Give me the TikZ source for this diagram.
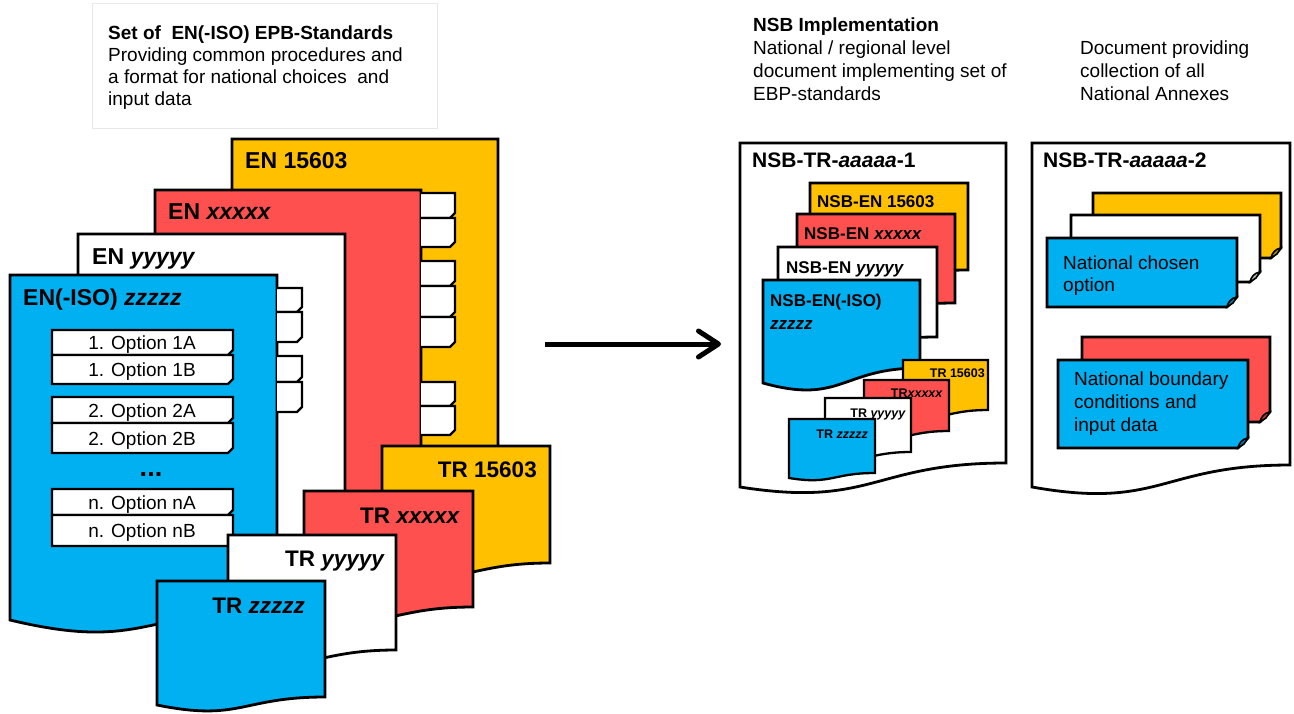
\documentclass[tikz,border=0pt]{standalone}
\usepackage{fontspec}
\setmainfont{Liberation Sans}
\usetikzlibrary{arrows.meta}
\definecolor{cblue}{RGB}{0,176,240}
\definecolor{cred}{RGB}{255,80,80}
\definecolor{cyel}{RGB}{255,192,0}
\tikzset{
  docline/.style={line width=2.8pt, line join=miter},
  tabline/.style={line width=2.2pt},
  smallline/.style={line width=2.3pt},
  hdr/.style={anchor=base west, inner sep=0pt, font=\fontsize{19}{21.5}\selectfont},
  hdrb/.style={anchor=base west, inner sep=0pt, font=\bfseries\fontsize{19}{21.5}\selectfont},
  enlab/.style={anchor=base west, inner sep=0pt, font=\bfseries\fontsize{23}{25}\selectfont},
  trlab/.style={anchor=base east, inner sep=0pt, font=\bfseries\fontsize{22.5}{25}\selectfont},
  biglab/.style={anchor=base west, inner sep=0pt, font=\bfseries\fontsize{21}{23}\selectfont},
  nsblab/.style={anchor=base west, inner sep=0pt, font=\bfseries\fontsize{17}{19}\selectfont},
  smalltr/.style={anchor=base east, inner sep=0pt, font=\bfseries\fontsize{12.5}{14}\selectfont},
  opttext/.style={anchor=base, inner sep=0pt, font=\fontsize{19}{21}\selectfont},
  dotstext/.style={anchor=base, inner sep=0pt, font=\bfseries\fontsize{27}{28}\selectfont},
  cardtext/.style={anchor=base west, inner sep=0pt, font=\fontsize{19}{21}\selectfont},
  bigarrow/.style={line width=5pt, -{Straight Barb[length=20pt,width=26pt,line cap=round,line join=round]}},
}
% document shape: style, fill, x0, y0, x1, yR, b, c
\newcommand{\mydoc}[8]{%
  \filldraw[#1, fill=#2] (#3,#4) -- (#5,#4) -- (#5,#6)
    .. controls ({(#3+#5)/2},#6) and ({(#3+#5)/2},{#6+#7}) .. (#3,{#6+#8}) -- cycle;}
% index tab: x0, y0, x1, y1
\newcommand{\mytab}[4]{%
  \filldraw[tabline, fill=white] (#1,#2) -- (#3,#2) -- (#3,{#4-5}) -- ({#3-5},#4) -- (#1,#4);}
% option box: y0, y1, name, text
\newcommand{\myopt}[4]{%
  \filldraw[tabline, fill=white] (52,#1) -- (233,#1) -- (233,{#2-5}) -- (228,#2) -- (52,#2) -- cycle;
  \node[opttext] (#3) at (142,{(#1+#2)/2+7}) {#4};}
% card with folded corner: fill, x0, y0, x1, y1
\newcommand{\mycard}[5]{%
  \filldraw[docline, fill=#1] (#2,#3) -- (#4,#3) -- (#4,{#5-10}) -- ({#4-10},#5) -- (#2,#5) -- cycle;
  \filldraw[line width=1.6pt, fill=#1!70!black] ({#4-10},#5) .. controls ({#4-9},{#5-5}) and ({#4-6},{#5-9}) .. (#4,{#5-10}) -- ({#4-4},{#5-4}) -- cycle;}
\begin{document}
\begin{tikzpicture}[x=1pt,y=-1pt]
\useasboundingbox (0,0) rectangle (1294,713);
\fill[white] (0,0) rectangle (1294,713);

% ---------- left header ----------
\draw[gray!18, line width=0.8pt] (92,3) rectangle (437,128);
\node[hdrb] (h1) at (108,39) {Set of \ EN(-ISO) EPB-Standards};
\node[hdr] (h2) at (108,61) {Providing common procedures and};
\node[hdr] (h3) at (108,83) {a format for national choices \ and};
\node[hdr] (h4) at (108,105) {input data};

% ---------- right header ----------
\node[hdrb] (r1) at (753,31) {NSB Implementation};
\node[hdr] (r2) at (753,54) {National / regional level};
\node[hdr] (r3) at (753,77) {document implementing set of};
\node[hdr] (r4) at (753,100) {EBP-standards};
\node[hdr] (r5) at (1080,54) {Document providing};
\node[hdr] (r6) at (1080,77) {collection of all};
\node[hdr] (r7) at (1080,100) {National Annexes};

% ---------- left stack of EN documents ----------
\mydoc{docline}{cyel}{232}{139}{498}{545}{40}{12}
\node[enlab] (en1) at (245,168) {EN 15603};
\mydoc{docline}{cred}{155}{190}{421}{585}{40}{12}
\node[enlab] (en2) at (168,219) {EN \textit{xxxxx}};
\mytab{421}{193}{455}{218}
\mytab{421}{218}{455}{247}
\mytab{421}{261}{455}{286}
\mytab{421}{286}{455}{317}
\mytab{421}{317}{455}{347}
\mytab{421}{382}{455}{406}
\mytab{421}{406}{455}{435}
\mydoc{docline}{white}{78}{234}{345}{600}{40}{12}
\node[enlab] (en3) at (92,264) {EN \textit{yyyyy}};
\mydoc{docline}{cblue}{10}{275}{277}{610}{42}{10}
\node[enlab] (en4) at (23,305) {EN(-ISO) \textit{zzzzz}};
\mytab{277}{288}{302}{312}
\mytab{277}{312}{302}{342}
\mytab{277}{356}{302}{382}
\mytab{277}{382}{302}{412}
\myopt{330}{355}{o1}{1. Option 1A}
\myopt{355}{384}{o2}{1. Option 1B}
\myopt{397}{423}{o3}{2. Option 2A}
\myopt{423}{453}{o4}{2. Option 2B}
\node[dotstext] (dots) at (151,476) {...};
\myopt{489}{515}{o5}{n. Option nA}
\myopt{515}{546}{o6}{n. Option nB}

% ---------- left stack of TR documents ----------
\mydoc{docline}{cyel}{382}{446}{550}{563}{25}{8}
\node[trlab] (tr1) at (537,477) {TR 15603};
\mydoc{docline}{cred}{304}{491}{473}{607}{25}{8}
\node[trlab] (tr2) at (460,523) {TR \textit{xxxxx}};
\mydoc{docline}{white}{228}{535}{396}{650}{25}{8}
\node[trlab] (tr3) at (385,566) {TR \textit{yyyyy}};
\mydoc{docline}{cblue}{157}{581}{325}{697}{25}{8}
\node[trlab] (tr4) at (305,613) {TR \textit{zzzzz}};

% ---------- arrow ----------
\coordinate (a1) at (545,344);
\coordinate (a2) at (721,344);
\draw[bigarrow] (a1) -- (a2);

% ---------- right document 1 ----------
\mydoc{docline}{white}{740}{143}{1006}{463}{45}{24}
\node[biglab] (d1) at (752,167) {NSB-TR-\textit{aaaaa}-1};
\mydoc{docline}{cyel}{810}{183}{968}{270}{20}{8}
\node[nsblab] (n1) at (817,207) {NSB-EN 15603};
\mydoc{docline}{cred}{797}{214}{955}{303}{20}{8}
\node[nsblab] (n2) at (804,239) {NSB-EN \textit{xxxxx}};
\mydoc{docline}{white}{778}{247}{937}{337}{20}{8}
\node[nsblab] (n3) at (786,273) {NSB-EN \textit{yyyyy}};
\mydoc{docline}{cblue}{763}{280}{920}{368}{37}{15}
\node[nsblab] (n4) at (770,306) {NSB-EN(-ISO)};
\node[nsblab] (n5) at (770,329) {\textit{zzzzz}};
\mydoc{smallline}{cyel}{903}{360}{988}{410}{12}{5}
\node[smalltr] (s1) at (985,377) {TR 15603};
\mydoc{smallline}{cred}{864}{380}{949}{431}{12}{5}
\node[smalltr] (s2) at (943,397) {TR\textit{xxxxx}};
\mydoc{smallline}{white}{825}{398}{911}{452}{12}{5}
\node[smalltr] (s3) at (906,417) {TR \textit{yyyyy}};
\mydoc{smallline}{cblue}{789}{419}{875}{473}{12}{5}
\node[smalltr] (s4) at (868,438) {TR \textit{zzzzz}};

% ---------- right document 2 ----------
\mydoc{docline}{white}{1032}{143}{1290}{465}{45}{22}
\node[biglab] (d2) at (1043,167) {NSB-TR-\textit{aaaaa}-2};
\mycard{cyel}{1093}{193}{1281}{258}
\mycard{white}{1071}{215}{1260}{282}
\mycard{cblue}{1047}{238}{1237}{307}
\node[cardtext] (c1) at (1063,269) {National chosen};
\node[cardtext] (c2) at (1063,291) {option};
\mycard{cred}{1082}{337}{1270}{422}
\mycard{cblue}{1058}{360}{1248}{448}
\node[cardtext] (c3) at (1074,385) {National boundary};
\node[cardtext] (c4) at (1074,408) {conditions and};
\node[cardtext] (c5) at (1074,431) {input data};
\end{tikzpicture}
\end{document}
